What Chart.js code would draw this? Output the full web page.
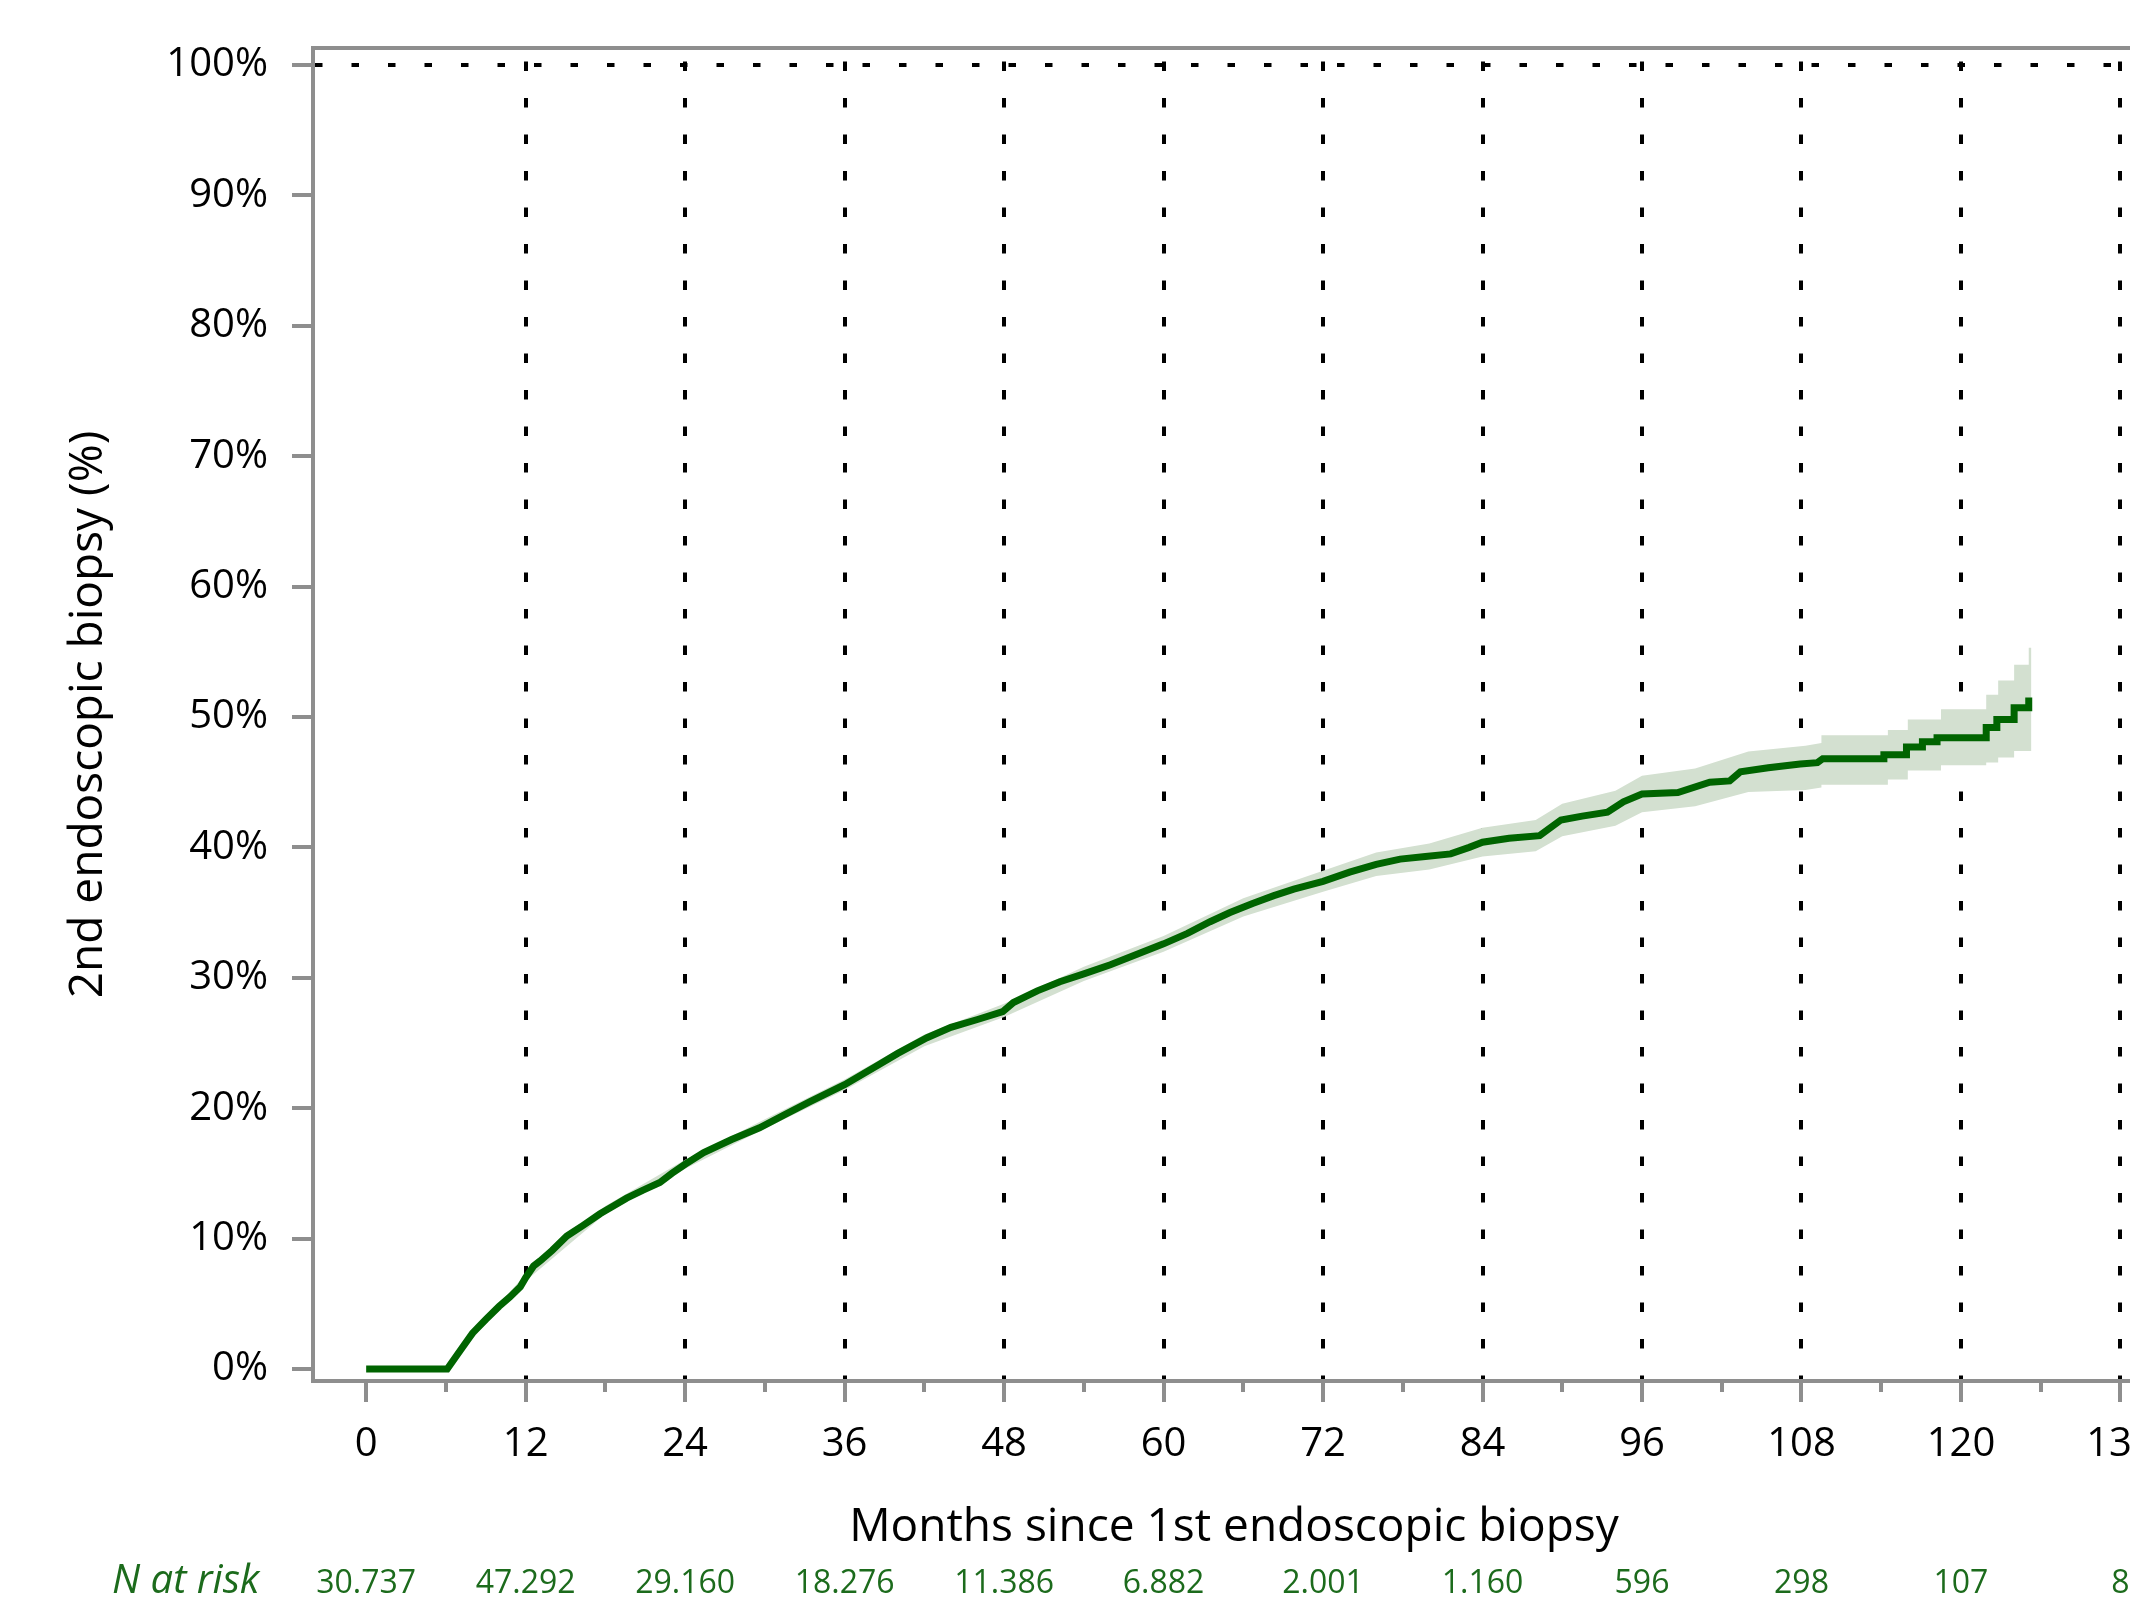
<!DOCTYPE html>
<html>
<head>
<meta charset="utf-8">
<title>2nd endoscopic biopsy</title>
<script src="https://cdn.jsdelivr.net/npm/chart.js@4.4.1/dist/chart.umd.min.js"></script>
<style>
  html, body { margin: 0; padding: 0; background: #fff; overflow: hidden; }
  #wrap { width: 2130px; height: 1597px; overflow: hidden; }
</style>
</head>
<body>
<div id="wrap"><canvas id="kmChart" width="2200" height="1597"></canvas></div>
<script>
// cumulative incidence of a 2nd endoscopic biopsy (%)
var months = [0, 6.1, 7, 8, 9, 10, 10.8, 11.6, 12, 12.6, 13.1, 14, 15.1, 16.3, 17.6, 18.6, 19.6,
  20.8, 22.1, 23, 24, 25.4, 27.5, 29.6, 31.5, 33.4, 36, 38.5, 40, 42.2, 44, 46, 47.9, 48.7,
  50.5, 52.2, 54, 56, 58, 60, 61.8, 63.5, 65, 66.7, 68.3, 69.8, 72, 74, 76, 77.8, 79.7, 81.6,
  83, 84, 86, 88.3, 89.9, 91.5, 93.4, 94.6, 96, 98.7, 101.1, 102.6, 103.4, 105.5, 107.9, 109.2,
  109.6, 114.2, 114.2, 115.9, 115.9, 117.1, 117.1, 118.2, 118.2, 121.9, 121.9, 122.7, 122.7,
  124, 124, 125.1, 125.1];
var incidence = [0, 0, 1.3, 2.75, 3.8, 4.8, 5.5, 6.3, 7.0, 7.9, 8.3, 9.1, 10.2, 11.0, 11.9, 12.5, 13.1,
  13.7, 14.3, 15.0, 15.7, 16.6, 17.6, 18.5, 19.5, 20.5, 21.8, 23.3, 24.2, 25.4, 26.2, 26.8, 27.4, 28.1,
  29.0, 29.7, 30.3, 31.0, 31.8, 32.6, 33.4, 34.3, 35.0, 35.7, 36.3, 36.8, 37.4, 38.1, 38.7, 39.1, 39.3, 39.5,
  40.0, 40.4, 40.7, 40.9, 42.1, 42.4, 42.7, 43.5, 44.1, 44.2, 45.0, 45.1, 45.8, 46.1, 46.4, 46.5,
  46.8, 46.8, 47.1, 47.1, 47.7, 47.7, 48.1, 48.1, 48.4, 48.4, 49.2, 49.2, 49.8,
  49.8, 50.7, 50.7, 51.5];

// 95% confidence band
var bandMonths = [6.1, 9, 12, 18, 24, 30, 36, 42, 48, 54, 60, 66, 72, 76, 80, 84, 88, 90, 94, 96,
  100, 104, 108.3, 109.5, 109.5, 114.5, 114.5, 116, 116, 118.5, 118.5, 121.9, 121.9, 122.8, 122.8,
  124, 124, 125.1, 125.1, 125.3];
var bandLow = [0, 3.5, 6.75, 11.9, 15.35, 18.45, 21.4, 24.75, 27.0, 29.75, 32.0, 34.7, 36.6, 37.8, 38.3,
  39.3, 39.7, 40.85, 41.65, 42.7, 43.15, 44.25, 44.4, 44.6, 44.8, 44.8, 45.2, 45.2, 45.9, 45.9, 46.3,
  46.3, 46.5, 46.5, 46.9, 46.9, 47.4, 47.4, 47.4, 47.4];
var bandHigh = [0, 3.9, 7.25, 12.5, 16.05, 19.15, 22.2, 25.65, 28.0, 30.85, 33.2, 36.1, 38.2, 39.6, 40.3,
  41.5, 42.1, 43.35, 44.35, 45.5, 46.05, 47.35, 47.8, 48.0, 48.6, 48.6, 49.0, 49.0, 49.8, 49.8, 50.6,
  50.6, 51.7, 51.7, 52.8, 52.8, 54.0, 54.0, 55.3, 55.3];

// number at risk row
var riskMonths = [0, 12, 24, 36, 48, 60, 72, 84, 96, 108, 120, 132];
var riskCounts = ["30.737", "47.292", "29.160", "18.276", "11.386", "6.882", "2.001", "1.160",
  "596", "298", "107", "8"];

var minorMonths = [6, 18, 30, 42, 54, 66, 78, 90, 102, 114, 126];

var fontName = "'Open Sans', 'Noto Sans', sans-serif";
var axisGrey = "#8e8e8e";
var lineGreen = "#006400";
var bandGreen = "rgb(211, 224, 208)";

function toPoints(xs, ys) {
  return xs.map(function (x, i) {
    return { x: x, y: ys[i] };
  });
}

var extras = {
  id: "extras",
  afterDraw: function (chart) {
    var ctx = chart.ctx;
    var area = chart.chartArea;
    var xs = chart.scales.x;
    ctx.save();
    // rest of the frame
    ctx.strokeStyle = axisGrey;
    ctx.lineWidth = 4;
    ctx.beginPath();
    ctx.moveTo(area.left - 2, area.top);
    ctx.lineTo(area.right, area.top);
    ctx.lineTo(area.right, area.bottom);
    ctx.stroke();
    // short minor ticks
    minorMonths.forEach(function (m) {
      var px = Math.round(xs.getPixelForValue(m));
      ctx.beginPath();
      ctx.moveTo(px, area.bottom);
      ctx.lineTo(px, area.bottom + 11);
      ctx.stroke();
    });
    // N at risk
    ctx.fillStyle = "#1c6b1c";
    ctx.textBaseline = "middle";
    ctx.textAlign = "left";
    ctx.font = "italic 40px " + fontName;
    ctx.fillText("N at risk", 112, 1582);
    ctx.textAlign = "center";
    ctx.font = "32px " + fontName;
    riskMonths.forEach(function (m, i) {
      ctx.fillText(riskCounts[i], xs.getPixelForValue(m), 1584);
    });
    ctx.restore();
  }
};

new Chart(document.getElementById("kmChart"), {
  type: "line",
  data: {
    datasets: [
      {
        label: "2nd endoscopic biopsy",
        data: toPoints(months, incidence),
        borderColor: lineGreen,
        borderWidth: 7,
        borderCapStyle: "butt",
        borderJoinStyle: "miter",
        pointRadius: 0,
        tension: 0,
        fill: false
      },
      {
        label: "lower",
        data: toPoints(bandMonths, bandLow),
        borderWidth: 0,
        borderColor: "rgba(0,0,0,0)",
        pointRadius: 0,
        fill: false
      },
      {
        label: "upper",
        data: toPoints(bandMonths, bandHigh),
        borderWidth: 0,
        borderColor: "rgba(0,0,0,0)",
        backgroundColor: bandGreen,
        pointRadius: 0,
        fill: "-1"
      }
    ]
  },
  options: {
    responsive: false,
    animation: false,
    events: [],
    layout: { padding: { left: 0, top: 43, right: 45, bottom: 0 } },
    plugins: {
      legend: { display: false },
      tooltip: { enabled: false }
    },
    scales: {
      x: {
        type: "linear",
        min: -4,
        max: 134.6,
        afterFit: function (scale) {
          scale.height = 216;
        },
        border: { display: true, color: axisGrey, width: 4, dash: [9.5, 27], dashOffset: 23 },
        grid: {
          lineWidth: 4,
          tickLength: 21,
          tickWidth: 4,
          color: function (c) {
            var v = c.tick && c.tick.value;
            return v > 0 && v % 12 === 0 ? "#000" : "rgba(0,0,0,0)";
          },
          tickColor: function (c) {
            var v = c.tick && c.tick.value;
            return v % 12 === 0 ? axisGrey : "rgba(0,0,0,0)";
          }
        },
        ticks: {
          stepSize: 6,
          includeBounds: false,
          maxRotation: 0,
          autoSkip: false,
          padding: 19,
          color: "#000",
          font: { family: fontName, size: 40 },
          callback: function (v) {
            return v % 12 === 0 ? v : "";
          }
        },
        title: {
          display: true,
          text: "Months since 1st endoscopic biopsy",
          color: "#000",
          font: { family: fontName, size: 46, lineHeight: 1 },
          padding: { top: 0, bottom: 46 }
        }
      },
      y: {
        min: -0.92,
        max: 101.3,
        afterFit: function (scale) {
          scale.width = 313;
        },
        border: { display: true, color: axisGrey, width: 4, dash: [7.5, 29] },
        grid: {
          lineWidth: 4,
          tickLength: 21,
          tickWidth: 4,
          tickColor: axisGrey,
          color: function (c) {
            return c.tick && c.tick.value === 100 ? "#000" : "rgba(0,0,0,0)";
          }
        },
        ticks: {
          stepSize: 10,
          includeBounds: false,
          padding: 24,
          color: "#000",
          font: { family: fontName, size: 40 },
          callback: function (v) {
            return v + "%";
          }
        },
        title: {
          display: true,
          text: "2nd endoscopic biopsy (%)",
          color: "#000",
          font: { family: fontName, size: 46, lineHeight: 1 },
          padding: { top: 66, bottom: 0 }
        }
      }
    }
  },
  plugins: [extras]
});
</script>
</body>
</html>
